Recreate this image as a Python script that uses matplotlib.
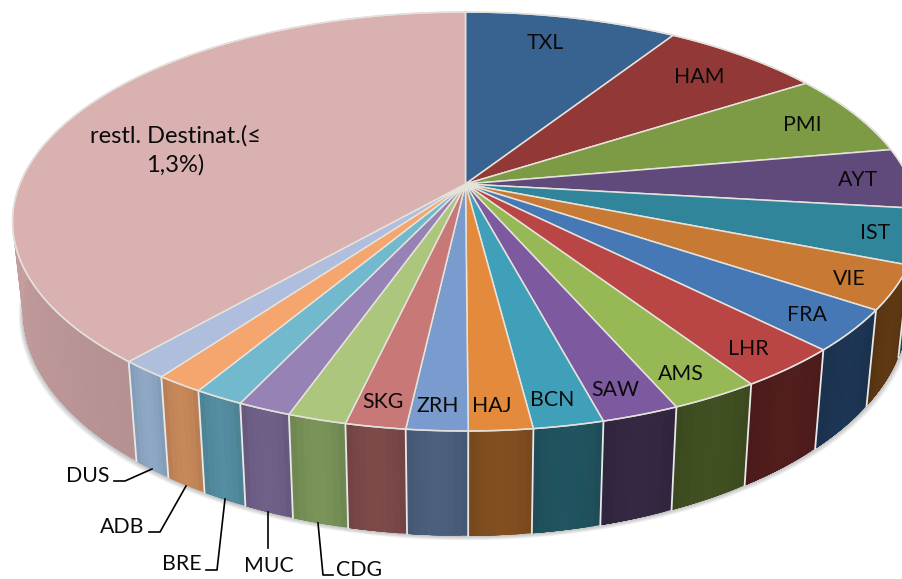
import numpy as np
import matplotlib
matplotlib.use('Agg')
import matplotlib.pyplot as plt

plt.rcParams['font.family'] = ['Lato', 'DejaVu Sans']

# shares in percent, clockwise from 12 o'clock
labels = ['TXL', 'HAM', 'PMI', 'AYT', 'IST', 'VIE', 'FRA', 'LHR', 'AMS', 'SAW',
          'BCN', 'HAJ', 'ZRH', 'SKG', 'CDG', 'MUC', 'BRE', 'ADB', 'DUS',
          'restl. Destinat.(≤\n1,3%)']
shares = [9.01, 6.82, 6.37, 4.68, 4.21, 3.36, 3.20, 3.18, 2.70, 2.35,
          2.12, 1.92, 1.84, 1.81, 1.77, 1.62, 1.50, 1.45, 1.42, 38.67]

top_colors = ['#38628f', '#923836', '#7d9a44', '#604a7b', '#31859b', '#c87a34',
              '#4678b5', '#b94644', '#96b955', '#7d5aa0', '#41a0b9', '#e48a3c',
              '#7a9bcd', '#c87876', '#acc67d', '#9682b4', '#73b9cd', '#f5a56e',
              '#afbedc', '#d9b1b1']
side_colors = ['#1e3552', '#4e1e1d', '#445424', '#342842', '#1a4854', '#5a3612',
               '#1c3350', '#4e1c1c', '#3e4c20', '#322640', '#1f505c', '#7c4b1e',
               '#485c78', '#784646', '#738c55', '#6a5c82', '#50879a', '#be8255',
               '#87a0bc', '#be9898']

label_xy = [(545, 43), (699, 77), (802, 125), (858, 180), (875, 233), (849, 279),
            (807, 315), (748, 349), (681, 374), (615, 390), (552, 400), (492, 406),
            (438, 406), (383, 402), (359, 570), (269, 566), (182, 564), (122, 527),
            (88, 476), (175, 150)]
leaders = [[(114, 481), (125, 481), (152, 469)],
           [(149, 532), (160, 532), (186, 486)],
           [(206, 570), (217, 570), (225, 499)],
           [(268, 548), (268, 512)],
           [(318, 523), (323, 575), (333, 575)]]

# pie geometry, in image pixels
cx, cy = 465.5, 184
a, b = 445.7, 202.8
k = 0.179      # perspective
h = 86         # thickness
shrink = 0.977 # lower rim is a bit narrower


def top_rim(t):
    X, Y = np.sin(t), np.cos(t)
    w = 1 + k * Y
    return cx + a * X / w, cy - b * Y / w


def bottom_rim(t, grow=0):
    X, Y = np.sin(t), np.cos(t)
    w = 1 + k * Y
    return cx + (a * shrink + grow) * X / w, cy + (h - b * Y) / w


def shade(color, f):
    rgb = np.array(matplotlib.colors.to_rgb(color)) * f
    return tuple(np.clip(rgb, 0, 1))


fig = plt.figure(figsize=(9.03, 5.79), dpi=100)
ax = fig.add_axes([0, 0, 1, 1])
ax.set_xlim(0, 903)
ax.set_ylim(579, 0)
ax.axis('off')

edges = np.radians(np.cumsum([0] + shares) * 360 / sum(shares))

# soft shadow under the lower rim
tt = np.linspace(np.radians(60), np.radians(300), 300)
for i in range(1, 6):
    x, y = bottom_rim(tt, grow=i * 0.8)
    ax.fill(x, y + i * 0.9, color='k', alpha=0.05, lw=0, zorder=1)

# sides, painted left to right over each other so no seams show in the gradient
for i in range(len(shares)):
    t0, t1 = edges[i], edges[i + 1]
    n = max(6, int((t1 - t0) * 80))
    for j in range(n):
        s = np.linspace(t0 + (t1 - t0) * j / n, t1, 30)
        x0, y0 = top_rim(s)
        x1, y1 = bottom_rim(s)
        f = 0.95 + 0.1 * np.sin(np.pi * (j + 0.5) / n)
        ax.fill(np.r_[x0, x1[::-1]], np.r_[y0, y1[::-1]], color=shade(side_colors[i], f),
                lw=0, zorder=2)

# white seams on the visible side
for t in edges:
    if np.radians(100) < t < np.radians(262):
        x0, y0 = top_rim(t)
        x1, y1 = bottom_rim(t)
        ax.plot([x0, x1], [y0, y1], color='#e8e8e8', lw=1.3, zorder=3)

# top face
for i in range(len(shares)):
    s = np.linspace(edges[i], edges[i + 1], 60)
    x, y = top_rim(s)
    ax.fill(np.r_[cx, x], np.r_[cy, y], facecolor=top_colors[i], edgecolor='#e6e2dc',
            lw=1.1, joinstyle='round', zorder=4)

x, y = top_rim(np.linspace(0, 2 * np.pi, 400))
ax.plot(x, y, color='#e4e0dc', lw=1.0, zorder=5)

for text, (x, y) in zip(labels, label_xy):
    size = 17 if '\n' in text else 15.3
    ax.text(x, y, text, ha='center', va='center', fontsize=size, color='#0a0a0a',
            linespacing=1.43, zorder=6)

for line in leaders:
    xs, ys = zip(*line)
    ax.plot(xs, ys, color='k', lw=1.2, zorder=6)

fig.savefig('out.png', dpi=100)
